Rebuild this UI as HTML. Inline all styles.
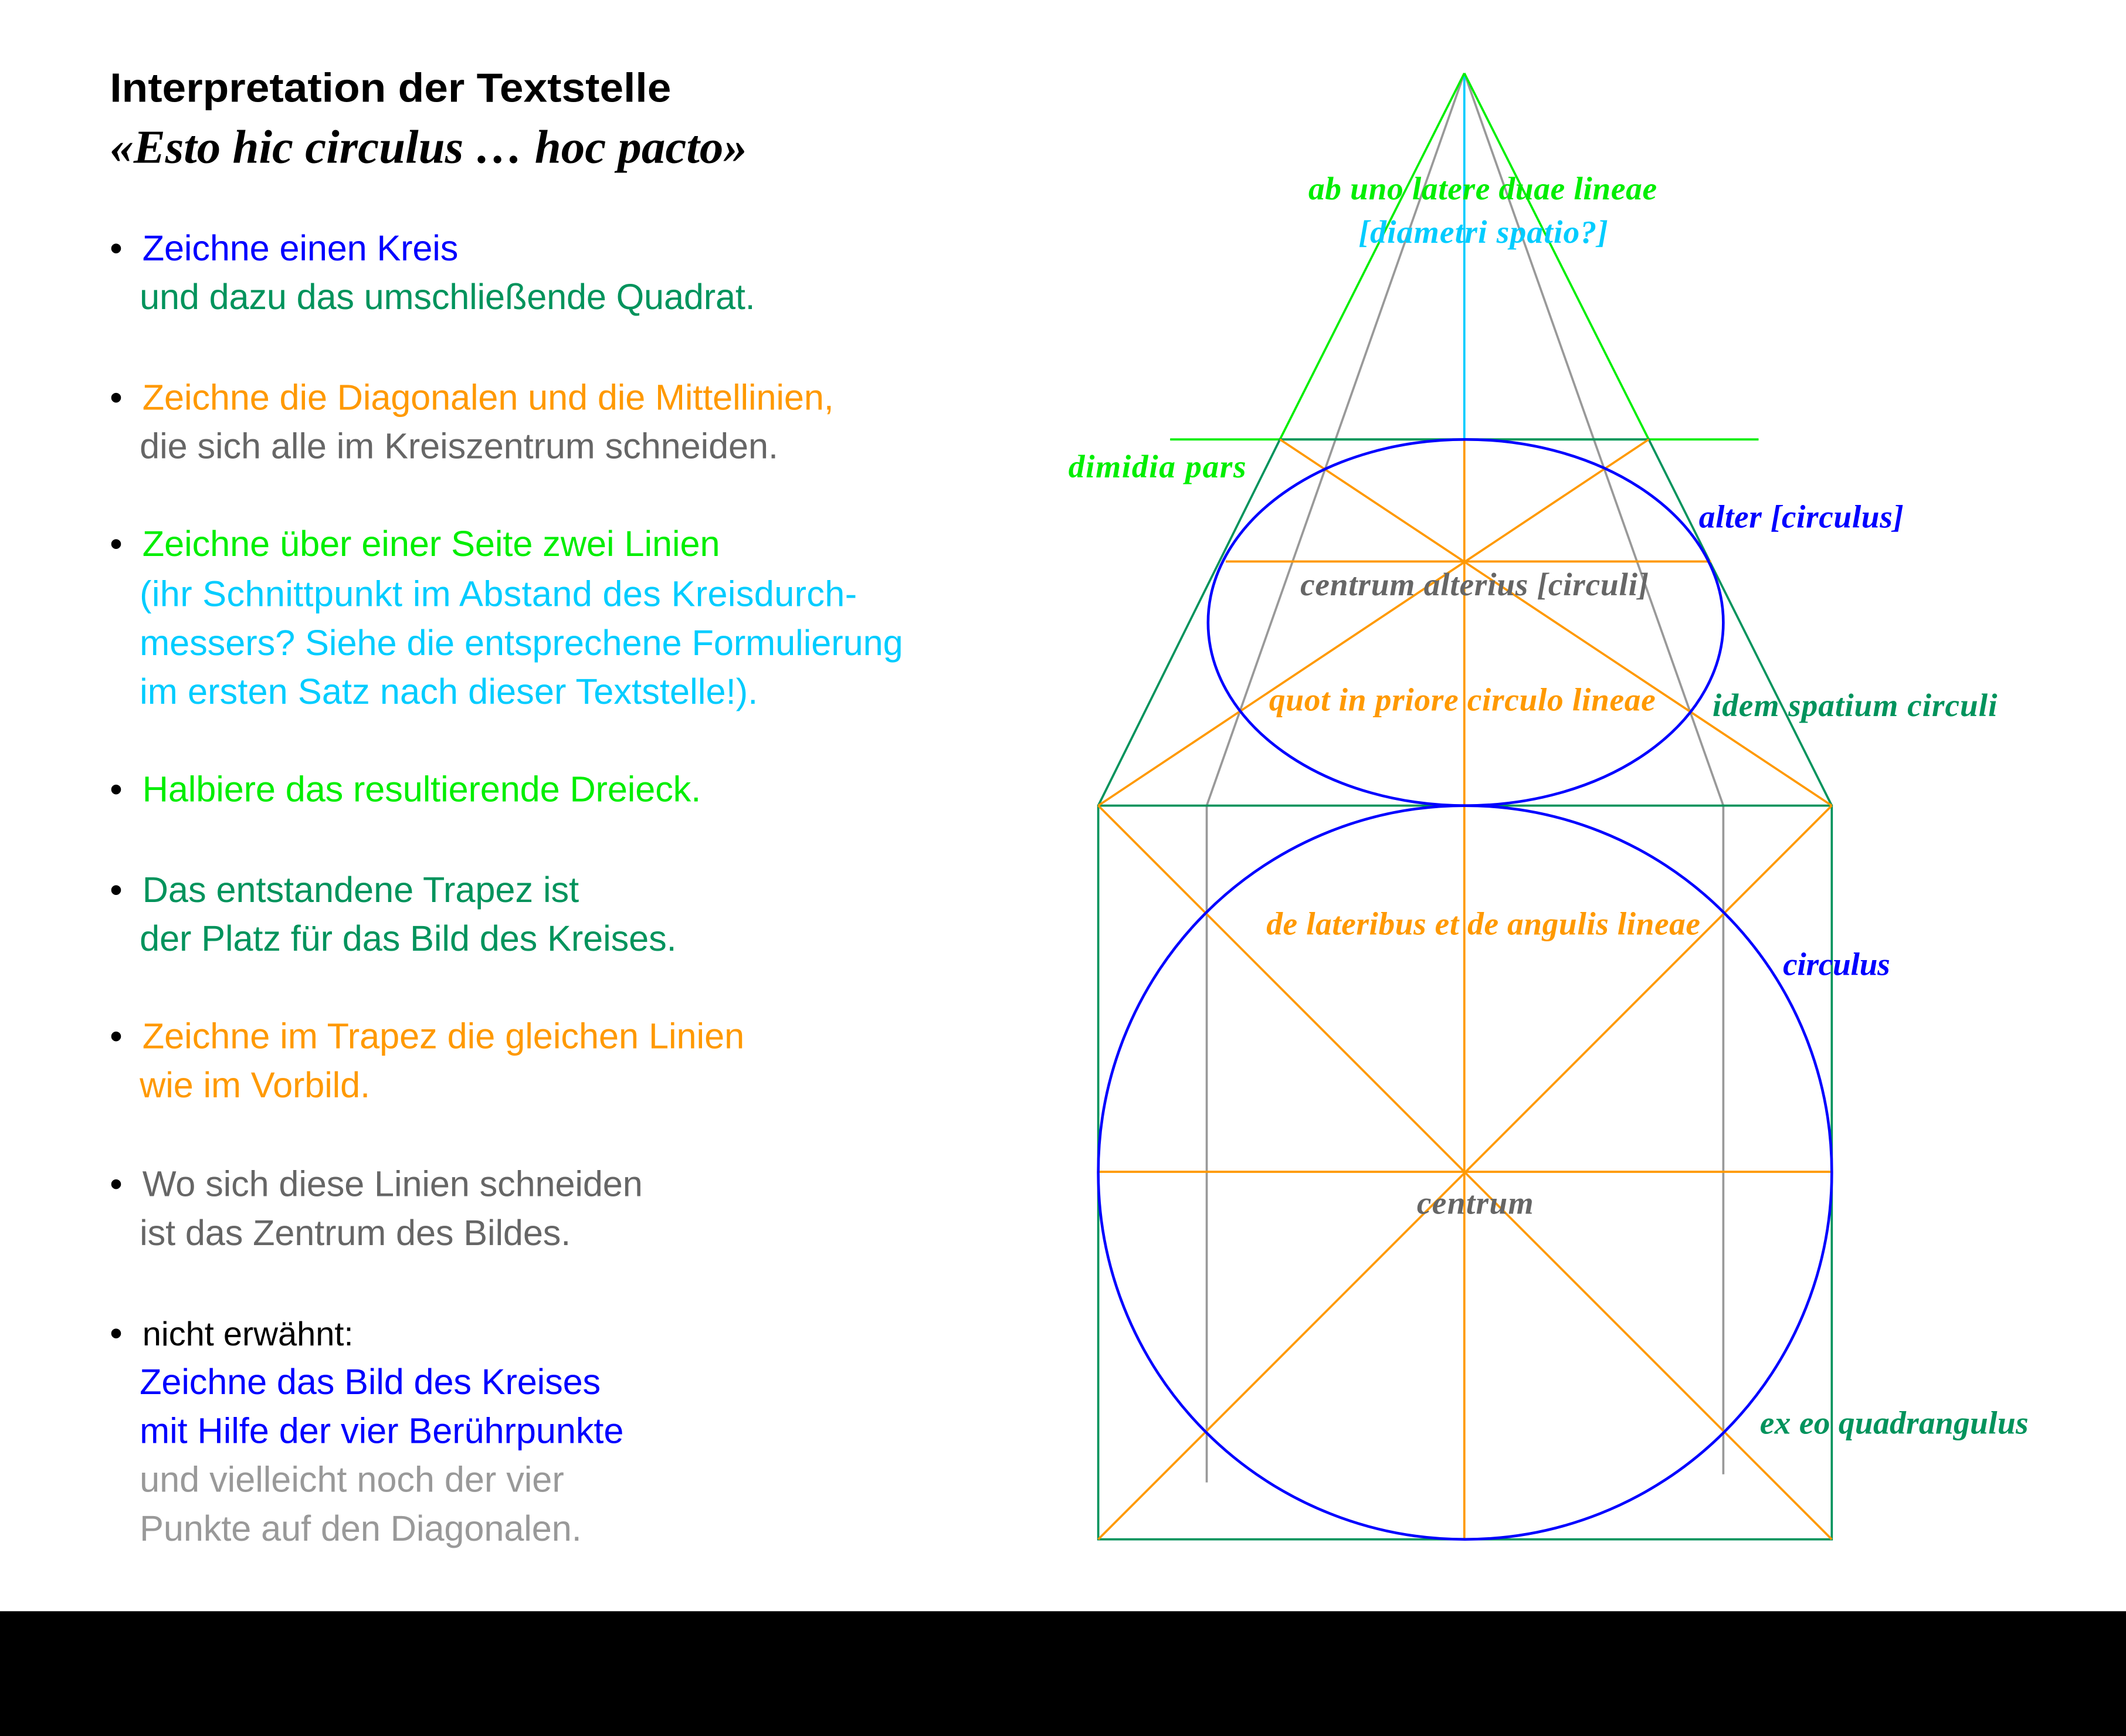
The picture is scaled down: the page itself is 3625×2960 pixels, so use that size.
<!DOCTYPE html>
<html><head><meta charset="utf-8"><style>
html,body{margin:0;padding:0;background:#fff}
svg{display:block}
.s{font-family:"Liberation Sans",sans-serif;font-size:26.5px}
.l{font-family:"Liberation Serif",serif;font-style:italic;font-weight:bold;font-size:24px}
</style></head><body>
<svg width="3625" height="2960" viewBox="0 0 1568 1280" preserveAspectRatio="none" xmlns="http://www.w3.org/2000/svg">
<rect x="0" y="0" width="1568" height="1280" fill="#fff"/>
<rect x="0" y="1188" width="1568" height="92" fill="#000"/>
<text x="81" y="75" font-family="Liberation Sans,sans-serif" font-weight="bold" font-size="30" textLength="414" lengthAdjust="spacingAndGlyphs">Interpretation der Textstelle</text>
<text x="81" y="120" font-family="Liberation Serif,serif" font-style="italic" font-weight="bold" font-size="35" textLength="470" lengthAdjust="spacingAndGlyphs">«Esto hic circulus … hoc pacto»</text>
<g class="s" lengthAdjust="spacingAndGlyphs">
<text x="81" y="192">•</text><text x="105" y="192" fill="#0000ff" textLength="233">Zeichne einen Kreis</text>
<text x="103" y="228" fill="#00935c" textLength="454">und dazu das umschließende Quadrat.</text>
<text x="81" y="302">•</text><text x="105" y="302" fill="#ff9900" textLength="510">Zeichne die Diagonalen und die Mittellinien,</text>
<text x="103" y="338" fill="#666" textLength="471">die sich alle im Kreiszentrum schneiden.</text>
<text x="81" y="410">•</text><text x="105" y="410" fill="#00ee00" textLength="426">Zeichne über einer Seite zwei Linien</text>
<text x="103" y="447" fill="#00ccff" textLength="529">(ihr Schnittpunkt im Abstand des Kreisdurch-</text>
<text x="103" y="483" fill="#00ccff" textLength="563">messers? Siehe die entsprechene Formulierung</text>
<text x="103" y="519" fill="#00ccff" textLength="456">im ersten Satz nach dieser Textstelle!).</text>
<text x="81" y="591">•</text><text x="105" y="591" fill="#00ee00" textLength="412">Halbiere das resultierende Dreieck.</text>
<text x="81" y="665">•</text><text x="105" y="665" fill="#00935c" textLength="322">Das entstandene Trapez ist</text>
<text x="103" y="701" fill="#00935c" textLength="396">der Platz für das Bild des Kreises.</text>
<text x="81" y="773">•</text><text x="105" y="773" fill="#ff9900" textLength="444">Zeichne im Trapez die gleichen Linien</text>
<text x="103" y="809" fill="#ff9900" textLength="170">wie im Vorbild.</text>
<text x="81" y="882">•</text><text x="105" y="882" fill="#666" textLength="369">Wo sich diese Linien schneiden</text>
<text x="103" y="918" fill="#666" textLength="318">ist das Zentrum des Bildes.</text>
<text x="81" y="992">•</text><text x="105" y="992" fill="#000" font-size="25">nicht erwähnt:</text>
<text x="103" y="1028" fill="#0000ff" textLength="340">Zeichne das Bild des Kreises</text>
<text x="103" y="1064" fill="#0000ff" textLength="357">mit Hilfe der vier Berührpunkte</text>
<text x="103" y="1100" fill="#999" textLength="313">und vielleicht noch der vier</text>
<text x="103" y="1136" fill="#999" textLength="326">Punkte auf den Diagonalen.</text>
</g>
<g fill="none" stroke-width="1.6">
<line x1="1080" y1="54" x2="890" y2="594" stroke="#999"/>
<line x1="1080" y1="54" x2="1271" y2="594" stroke="#999"/>
<line x1="890" y1="594" x2="890" y2="1093" stroke="#999"/>
<line x1="1271" y1="594" x2="1271" y2="1087" stroke="#999"/>
<line x1="1080" y1="54" x2="1080" y2="324" stroke="#00ccff"/>
<line x1="1080" y1="54" x2="944" y2="324" stroke="#00ee00"/>
<line x1="1080" y1="54" x2="1216" y2="324" stroke="#00ee00"/>
<line x1="863" y1="324" x2="1297" y2="324" stroke="#00ee00"/>
<polyline points="810,594 944,324 1216,324 1351,594" stroke="#00935c"/>
<rect x="810" y="594" width="541" height="541" stroke="#00935c"/>
<g stroke="#ff9900">
<line x1="810" y1="594" x2="1351" y2="1135"/>
<line x1="1351" y1="594" x2="810" y2="1135"/>
<line x1="810" y1="864" x2="1351" y2="864"/>
<line x1="1080" y1="324" x2="1080" y2="1135"/>
<line x1="944" y1="324" x2="1351" y2="594"/>
<line x1="1216" y1="324" x2="810" y2="594"/>
<line x1="904" y1="414" x2="1262" y2="414"/>
</g>
<circle cx="1080.5" cy="864.5" r="270.5" stroke="#0000ff" stroke-width="2"/>
<ellipse cx="1081" cy="459" rx="190" ry="135" stroke="#0000ff" stroke-width="2"/>
</g>
<g class="l" lengthAdjust="spacingAndGlyphs">
<text x="965" y="147" fill="#00ee00" textLength="257">ab uno latere duae lineae</text>
<text x="1002" y="179" fill="#00ccff" textLength="184">[diametri spatio?]</text>
<text x="788" y="352" fill="#00ee00" textLength="131">dimidia pars</text>
<text x="1253" y="389" fill="#0000ff" textLength="151">alter [circulus]</text>
<text x="959" y="439" fill="#666" textLength="257">centrum alterius [circuli]</text>
<text x="936" y="524" fill="#ff9900" textLength="285">quot in priore circulo lineae</text>
<text x="1263" y="528" fill="#00935c" textLength="210">idem spatium circuli</text>
<text x="934" y="689" fill="#ff9900" textLength="320">de lateribus et de angulis lineae</text>
<text x="1315" y="719" fill="#0000ff" textLength="79">circulus</text>
<text x="1045" y="895" fill="#666" textLength="86">centrum</text>
<text x="1298" y="1057" fill="#00935c" textLength="198">ex eo quadrangulus</text>
</g>
</svg>
</body></html>
